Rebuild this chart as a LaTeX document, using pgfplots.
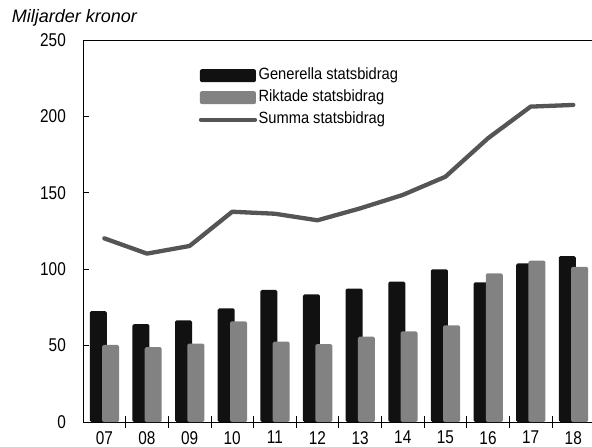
\documentclass[border=0pt]{standalone}
\usepackage{fontspec}
\setmainfont{Liberation Sans}
\newfontfamily\tickfont{Liberation Sans}[FakeStretch=0.83]
\newfontfamily\legfont{Liberation Sans}[FakeStretch=0.9]
\usepackage{pgfplots}
\pgfplotsset{compat=1.18}
\definecolor{barblack}{HTML}{111111}
\definecolor{bargray}{HTML}{828282}
\definecolor{linegray}{HTML}{555555}
\begin{document}
\begin{tikzpicture}
\path[use as bounding box] (-83bp,-25bp) rectangle (509bp,422bp);
\begin{axis}[
  scale only axis, width=511.6bp, height=382bp,
  xmin=-0.5, xmax=11.5, ymin=0, ymax=250,
  ytick={0,50,...,250},
  xtick={0,...,11},
  xticklabels={07,08,09,10,11,12,13,14,15,16,17,18},
  xtick pos=bottom, ytick pos=left,
  tick align=inside,
  major tick length=6bp,
  every major x tick/.append style={draw=none},
  ytick style={black, line width=0.8bp},
  axis line style={black, line width=0.8bp},
  /pgf/number format/assume math mode=true,
  yticklabel style={font=\tickfont\fontsize{18.5bp}{20bp}\selectfont, anchor=east, inner sep=0pt, xshift=-17bp},
  xticklabel style={font=\tickfont\fontsize{18.5bp}{20bp}\selectfont, anchor=north, inner sep=0pt, yshift=-9bp},
  legend style={draw=none, fill=none, at={(axis description cs:0.226,0.932)}, anchor=north west,
    inner sep=0pt, row sep=3bp, font=\legfont\fontsize{16.3bp}{18bp}\selectfont,
    nodes={inner sep=1.5bp, text height=12bp, text depth=4bp}},
  legend cell align=left,
]
\addplot[ybar, bar width=17bp, bar shift=-6bp, fill=barblack, draw=none, rounded corners=1.5bp,
  legend image code/.code={\fill[barblack, rounded corners=2bp] (0bp,-6.5bp) rectangle (56bp,6.5bp);}]
  coordinates {(0,72.6) (1,64.1) (2,66.5) (3,74.4) (4,86.4) (5,83.5) (6,87.3) (7,91.8) (8,99.9) (9,91.4) (10,103.8) (11,108.6)};
\addlegendentry{Generella statsbidrag}
\addplot[ybar, bar width=17bp, bar shift=6.3bp, fill=bargray, draw=none, rounded corners=1.5bp,
  legend image code/.code={\fill[bargray, rounded corners=2bp] (0bp,-6.5bp) rectangle (56bp,6.5bp);}]
  coordinates {(0,50.4) (1,49.0) (2,51.3) (3,65.9) (4,52.6) (5,51.0) (6,55.8) (7,59.3) (8,63.3) (9,97.3) (10,105.6) (11,101.6)};
\addlegendentry{Riktade statsbidrag}
\addplot[linegray, line width=4.3bp, line join=round, line cap=round,
  legend image code/.code={\draw[linegray, line width=4.3bp, line cap=round] (1bp,0bp) -- (55bp,0bp);}]
  coordinates {(0,120.2) (1,110.2) (2,115.2) (3,137.6) (4,136.3) (5,132.0) (6,139.8) (7,148.6) (8,160.5) (9,185.7) (10,206.4) (11,207.5)};
\addlegendentry{Summa statsbidrag}
\end{axis}
\foreach \k in {1,...,11} {
  \draw[black, line width=0.8bp] ({\k*42.633bp},-5.5bp) -- ({\k*42.633bp},5.5bp);
}
\node[anchor=base west, font=\itshape\fontsize{18bp}{20bp}\selectfont, inner sep=0pt] at (-71.3bp,399bp) {Miljarder kronor};
\end{tikzpicture}
\end{document}
